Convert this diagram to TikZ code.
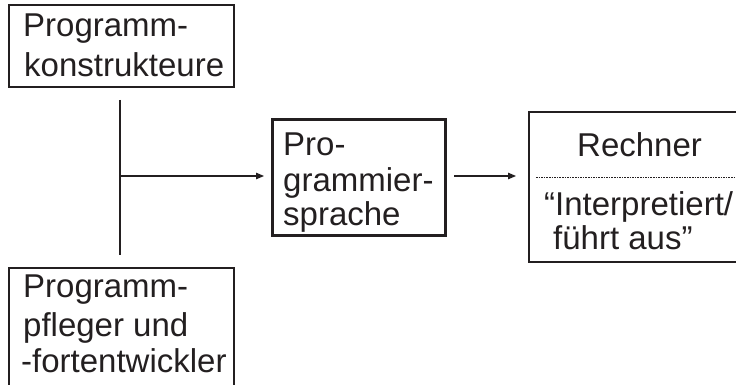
\documentclass[tikz,border=0pt]{standalone}
\usepackage{fontspec}
\setmainfont{Liberation Sans}
\usetikzlibrary{arrows.meta}
\definecolor{ink}{HTML}{231F20}
\begin{document}
\begin{tikzpicture}[x=1pt,y=-1pt, color=ink,
  box/.style={draw, anchor=north west, inner sep=0pt, outer sep=0pt},
  txt/.style={anchor=base west, inner sep=0pt, font=\fontsize{33}{33}\selectfont},
  conn/.style={line width=1.2pt},
  arr/.style={conn, -{Triangle[length=8pt,width=6.5pt]}}]
\useasboundingbox (0,0) rectangle (736,385);
\clip (0,0) rectangle (736,385);

% boxes
\node[box, line width=1.5pt, minimum width=225pt, minimum height=82pt] (konstr) at (9,5) {};
\node[box, line width=1.5pt, minimum width=225pt, minimum height=140pt] (pfleger) at (9,268) {};
\node[box, line width=3pt, minimum width=173pt, minimum height=115pt] (sprache) at (272,120) {};
\node[box, line width=1.3pt, minimum width=220pt, minimum height=150pt] (rechner) at (529,112) {};

% box texts
\node[txt] (k1) at (23,37) {Programm-};
\node[txt] (k2) at (24,77) {konstrukteure};
\node[txt] (p1) at (23,297) {Programm-};
\node[txt] (p2) at (23,336) {pfleger und};
\node[txt] (p3) at (21,372) {-fortentwickler};
\node[txt] (s1) at (283,156) {Pro-};
\node[txt] (s2) at (283,191) {grammier-};
\node[txt] (s3) at (283,225) {sprache};
\node[txt] (r1) at (577,157) {Rechner};
\node[txt] (r2) at (544,215) {“Interpretiert/};
\node[txt] (r3) at (553,249) {führt aus”};
\draw[line width=0.7pt, dash pattern=on 1.6pt off 1pt] (536,177) -- (rechner.east |- 0,177);

% connectors
\coordinate (vtop) at (120,100);
\coordinate (vbot) at (120,255);
\coordinate (vmid) at (120,176);
\draw[conn] (vtop) -- (vbot);
\draw[arr, shorten >=8pt] (vmid) -- (vmid -| sprache.west);
\draw[arr, shorten <=9pt, shorten >=13pt] (sprache.east |- vmid) -- (vmid -| rechner.west);
\end{tikzpicture}
\end{document}
